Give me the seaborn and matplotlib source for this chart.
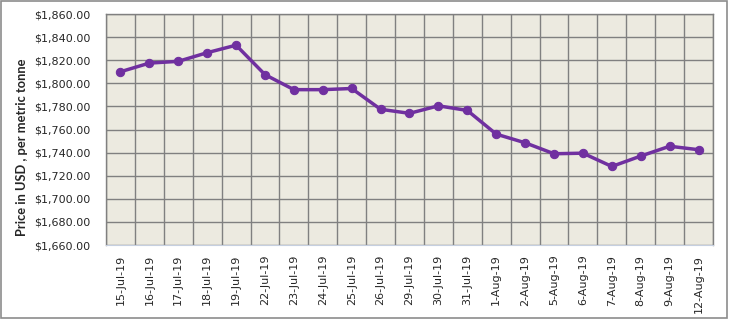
import matplotlib
matplotlib.use("Agg")
import matplotlib.pyplot as plt
import matplotlib.ticker as mticker
import seaborn as sns
import pandas as pd
import numpy as np

dates = ["15-Jul-19", "16-Jul-19", "17-Jul-19", "18-Jul-19", "19-Jul-19",
         "22-Jul-19", "23-Jul-19", "24-Jul-19", "25-Jul-19", "26-Jul-19",
         "29-Jul-19", "30-Jul-19", "31-Jul-19", "1-Aug-19", "2-Aug-19",
         "5-Aug-19", "6-Aug-19", "7-Aug-19", "8-Aug-19", "9-Aug-19",
         "12-Aug-19"]
prices = [1810, 1817.5, 1819, 1826.5, 1833,
          1807.5, 1794.5, 1794.5, 1795.5, 1777.5,
          1774, 1780.5, 1776.5, 1756, 1748.5,
          1739, 1739.5, 1728, 1737, 1745.5,
          1742.5]

df = pd.DataFrame({"pos": np.arange(len(dates)), "price": prices})

sns.set_style("white")
plt.rcParams["font.family"] = ["DejaVu Sans"]

fig = plt.figure(figsize=(7.29, 3.19), dpi=100)
ax = fig.add_axes([106 / 729, 1 - 245 / 319, 607 / 729, 231 / 319])
ax.set_facecolor("#ECEAE0")

sns.lineplot(data=df, x="pos", y="price", ax=ax, color="#7030A0",
             linewidth=2.5, marker="o", markersize=6,
             markeredgecolor="#7030A0", zorder=3)

ax.set_xlim(-0.5, len(dates) - 0.5)
ax.set_ylim(1660, 1860)
ax.yaxis.set_major_locator(mticker.MultipleLocator(20))
ax.yaxis.set_major_formatter(mticker.FuncFormatter(lambda v, p: f"${v:,.2f}"))
ax.set_xticks(df["pos"])
ax.set_xticklabels(dates, rotation=90, fontsize=8)
ax.set_xticks(np.arange(-0.5, len(dates), 1), minor=True)
ax.tick_params(axis="x", which="both", length=0, pad=7)
ax.tick_params(axis="y", length=0, labelsize=8, pad=11)

ax.grid(False)
ax.grid(axis="y", which="major", color="#808080", linewidth=1.0)
ax.grid(axis="x", which="minor", color="#808080", linewidth=1.0)
ax.set_axisbelow(True)

for s in ["top", "right", "left"]:
    ax.spines[s].set_color("#808080")
    ax.spines[s].set_linewidth(1.0)
ax.spines["bottom"].set_color("#C5CFE0")

ax.set_xlabel("")
ax.set_ylabel("Price in USD , per metric tonne", fontsize=9.3,
              fontweight="bold", family=["Lato", "DejaVu Sans"])
ax.yaxis.set_label_coords(-0.128, 0.424)

fig.patches.append(plt.Rectangle((0.002, 0.003), 0.995, 0.994,
                                 transform=fig.transFigure, fill=False,
                                 edgecolor="#8C8C8C", linewidth=1.2))

fig.savefig("out.png", dpi=100)
